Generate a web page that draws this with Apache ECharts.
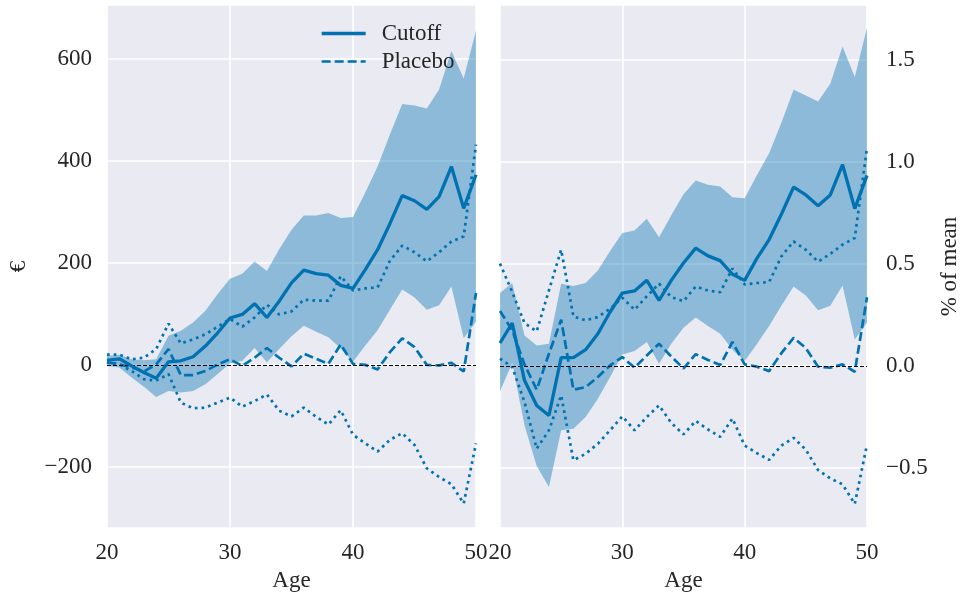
<!DOCTYPE html>
<html>
<head>
<meta charset="utf-8">
<script src="https://cdn.jsdelivr.net/npm/echarts@6/dist/echarts.min.js"></script>
<style>
  html, body { margin: 0; padding: 0; background: #ffffff; }
  #chart { width: 962px; height: 597px; }
</style>
</head>
<body>
<div id="chart"></div>
<script>
// Age grid shared by both panels
const ages = [20, 21, 22, 23, 24, 25, 26, 27, 28, 29, 30, 31, 32, 33, 34, 35,
              36, 37, 38, 39, 40, 41, 42, 43, 44, 45, 46, 47, 48, 49, 50];

// Left panel: effects in euros
const cutoffEur   = [9, 12, -2, -15, -26, 6, 8, 16, 37, 63, 92, 99, 120, 93, 125, 161,
                     186, 179, 176, 156, 150, 187, 226, 277, 332, 322, 305, 330, 389, 307, 373];
const cutoffHiEur = [18, 20, 11, 9, 11, 57, 67, 83, 106, 139, 169, 179, 203, 184, 227, 265,
                     293, 293, 298, 288, 290, 338, 389, 452, 512, 509, 503, 540, 616, 562, 656];
const cutoffLoEur = [-2, -5, -25, -43, -63, -51, -54, -51, -38, -18, 3, 8, 33, 5, 31, 56,
                     77, 65, 54, 32, 6, 38, 68, 108, 148, 132, 108, 117, 154, 52, 85];
const placeboEur   = [5, 1, -5, -13, 1, 31, -20, -20, -12, 1, 11, -2, 14, 33, 14, -3,
                      22, 12, 2, 40, 2, 0, -9, 25, 52, 35, 0, -1, 4, -13, 141];
const placeboHiEur = [20, 20, 11, 14, 31, 81, 42, 50, 60, 75, 90, 75, 93, 118, 99, 105,
                      128, 126, 126, 174, 146, 150, 152, 204, 234, 221, 203, 221, 242, 252, 432];
const placeboLoEur = [5, 1, -12, -28, -31, -18, -74, -85, -84, -74, -64, -82, -71, -58, -90, -101,
                      -84, -102, -117, -89, -137, -154, -170, -147, -134, -157, -203, -220, -234, -272, -154];

// Right panel: effects relative to mean earnings
const cutoffPct   = [0.113, 0.211, -0.070, -0.193, -0.242, 0.041, 0.041, 0.080, 0.158, 0.265, 0.358,
                     0.368, 0.420, 0.322, 0.420, 0.505, 0.578, 0.540, 0.517, 0.450, 0.420,
                     0.528, 0.620, 0.744, 0.877, 0.839, 0.786, 0.839, 0.988, 0.772, 0.935];
const cutoffHiPct = [0.358, 0.407, 0.150, 0.101, 0.109, 0.404, 0.392, 0.407, 0.469, 0.564, 0.652,
                     0.665, 0.722, 0.632, 0.739, 0.842, 0.910, 0.889, 0.880, 0.827, 0.822,
                     0.935, 1.043, 1.193, 1.354, 1.326, 1.297, 1.384, 1.566, 1.417, 1.658];
const cutoffLoPct = [-0.123, 0.015, -0.290, -0.490, -0.593, -0.315, -0.307, -0.250, -0.160, -0.054, 0.057,
                     0.074, 0.118, 0.011, 0.109, 0.188, 0.238, 0.196, 0.158, 0.080, 0.025,
                     0.108, 0.196, 0.296, 0.390, 0.346, 0.274, 0.296, 0.395, 0.130, 0.213];
const placeboPct   = [0.270, 0.175, 0.008, -0.116, 0.060, 0.227, -0.116, -0.103, -0.054, 0.003, 0.044,
                      -0.008, 0.052, 0.109, 0.047, -0.012, 0.058, 0.030, 0.005, 0.118, 0.008,
                      -0.003, -0.025, 0.063, 0.138, 0.088, -0.003, -0.008, 0.008, -0.028, 0.337];
const placeboHiPct = [0.502, 0.363, 0.211, 0.170, 0.371, 0.570, 0.243, 0.224, 0.240, 0.281, 0.335,
                      0.276, 0.342, 0.404, 0.338, 0.318, 0.390, 0.370, 0.362, 0.478, 0.400,
                      0.407, 0.412, 0.537, 0.611, 0.570, 0.512, 0.550, 0.595, 0.628, 1.068];
const placeboLoPct = [0.036, -0.005, -0.176, -0.405, -0.315, -0.144, -0.462, -0.430, -0.381, -0.315, -0.247,
                      -0.315, -0.250, -0.193, -0.279, -0.335, -0.269, -0.311, -0.347, -0.257, -0.390,
                      -0.427, -0.460, -0.390, -0.352, -0.410, -0.510, -0.551, -0.580, -0.676, -0.385];

const xTicks = [20, 30, 40, 50];

const BLUE = '#0072B2';
const BAND = 'rgba(0, 114, 178, 0.40)';
const TEXT = '#262626';
const FONT = 'Liberation Serif';
const FS = 23;

const pairs = (vals) => vals.map((v, i) => [ages[i], v]);
const minus = (s) => String(s).replace('-', '\u2212');

// Shaded confidence band drawn as one polygon through the axis scales
function bandSeries(idx, hi, lo) {
  return {
    name: 'band-' + idx, type: 'custom', xAxisIndex: idx, yAxisIndex: idx,
    data: [[ages[0], lo[0]]], silent: true, z: 1,
    renderItem: (params, api) => {
      const top = hi.map((v, i) => api.coord([ages[i], v]));
      const bottom = lo.map((v, i) => api.coord([ages[i], v])).reverse();
      return {
        type: 'polygon',
        shape: { points: top.concat(bottom) },
        style: { fill: BAND, stroke: null }
      };
    }
  };
}

function panelSeries(idx, mid, hi, lo, pMid, pHi, pLo) {
  const dotted = { color: BLUE, width: 2.7, type: [2.7, 4], cap: 'butt' };
  return [
    bandSeries(idx, hi, lo),
    {
      name: 'placebo-hi-' + idx, type: 'line', xAxisIndex: idx, yAxisIndex: idx,
      data: pairs(pHi), symbol: 'none', itemStyle: { color: BLUE }, lineStyle: dotted, z: 3
    },
    {
      name: 'placebo-lo-' + idx, type: 'line', xAxisIndex: idx, yAxisIndex: idx,
      data: pairs(pLo), symbol: 'none', itemStyle: { color: BLUE }, lineStyle: dotted, z: 3
    },
    {
      name: 'Placebo', type: 'line', xAxisIndex: idx, yAxisIndex: idx,
      data: pairs(pMid), symbol: 'none', itemStyle: { color: BLUE },
      lineStyle: { color: BLUE, width: 2.7, type: [9, 4], cap: 'butt' }, z: 4,
      markLine: {
        silent: true, symbol: 'none', label: { show: false },
        lineStyle: { color: '#000000', width: 1, type: [4, 2] },
        data: [{ yAxis: 0 }], z: 5
      }
    },
    {
      name: 'Cutoff', type: 'line', xAxisIndex: idx, yAxisIndex: idx,
      data: pairs(mid), symbol: 'none', itemStyle: { color: BLUE },
      lineStyle: { color: BLUE, width: 3.3 }, z: 6
    }
  ];
}

const baseText = { fontFamily: FONT, fontSize: FS, color: TEXT };

function xAxis(idx) {
  return {
    gridIndex: idx, type: 'value', min: xTicks[0], max: xTicks[xTicks.length - 1], interval: 10,
    axisLine: { show: false }, axisTick: { show: false },
    splitLine: { show: true, lineStyle: { color: '#ffffff', width: 1.6 } },
    axisLabel: Object.assign({ margin: 13, showMinLabel: true, showMaxLabel: true }, baseText),
    name: 'Age', nameLocation: 'middle', nameGap: 41, nameTextStyle: baseText
  };
}

const chart = echarts.init(document.getElementById('chart'), null, { renderer: 'canvas' });

chart.setOption({
  animation: false,
  backgroundColor: '#ffffff',
  grid: [
    { left: 107, top: 5, width: 369, height: 523, show: true, backgroundColor: '#EAEAF2', borderWidth: 0 },
    { left: 500, top: 5, width: 370, height: 523, show: true, backgroundColor: '#EAEAF2', borderWidth: 0 }
  ],
  legend: {
    data: [
      { name: 'Cutoff', lineStyle: { width: 3.3 } },
      { name: 'Placebo', lineStyle: { width: 2.7 } }
    ],
    orient: 'vertical', left: 315, top: 17,
    itemWidth: 44, itemHeight: 14, itemGap: 5,
    itemStyle: { opacity: 0 },
    textStyle: Object.assign({ padding: [0, 0, 0, 11] }, baseText)
  },
  xAxis: [xAxis(0), xAxis(1)],
  yAxis: [
    {
      gridIndex: 0, type: 'value', min: -320, max: 706, splitNumber: 5,
      axisLine: { show: false }, axisTick: { show: false },
      splitLine: { show: true, lineStyle: { color: '#ffffff', width: 1.6 } },
      axisLabel: Object.assign({ margin: 15, showMinLabel: false, showMaxLabel: false,
        formatter: (v) => minus(v) }, baseText),
      name: '\u20AC', nameLocation: 'middle', nameGap: 77, nameTextStyle: baseText
    },
    {
      gridIndex: 1, type: 'value', position: 'right', min: -0.794, max: 1.77, splitNumber: 5,
      axisLine: { show: false }, axisTick: { show: false },
      splitLine: { show: true, lineStyle: { color: '#ffffff', width: 1.6 } },
      axisLabel: Object.assign({ margin: 19, showMinLabel: false, showMaxLabel: false,
        formatter: (v) => minus(v.toFixed(1)) }, baseText),
      name: '% of mean', nameLocation: 'middle', nameGap: 71, nameTextStyle: baseText
    }
  ],
  series: [].concat(
    panelSeries(0, cutoffEur, cutoffHiEur, cutoffLoEur, placeboEur, placeboHiEur, placeboLoEur),
    panelSeries(1, cutoffPct, cutoffHiPct, cutoffLoPct, placeboPct, placeboHiPct, placeboLoPct)
  )
});
</script>
</body>
</html>
